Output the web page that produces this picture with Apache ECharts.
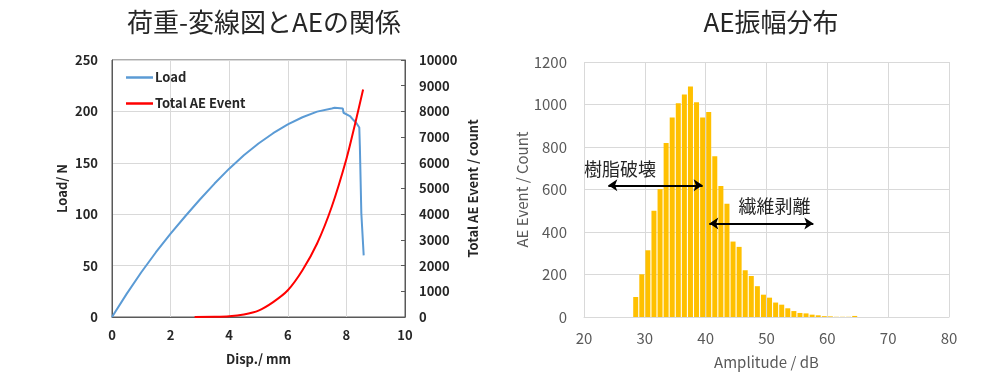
<!DOCTYPE html>
<html><head><meta charset="utf-8">
<script src="https://cdn.jsdelivr.net/npm/echarts@6/dist/echarts.min.js"></script>
<style>html,body{margin:0;padding:0;background:#fff}#c{width:1000px;height:380px}</style>
</head><body><div id="c"></div>
<script>
// Left chart: load vs displacement
const loadDisp = [0,0.5,1,1.5,2,2.5,3,3.5,4,4.5,5,5.5,6,6.5,7,7.5,7.6,7.88,7.9,8.12,8.24,8.35,8.44,8.46,8.51,8.59];
const loadN    = [0,22.5,43.5,63,81,98,114.3,129.8,144.3,157.3,168.8,178.8,187.3,194.3,199.8,202.8,203.5,202.8,198.7,195.5,191.6,188.3,184.4,165.6,100.7,60];
// Total AE event vs displacement
const aeDisp   = [2.82,3.5,4,4.5,5,5.5,6,6.5,7,7.5,8,8.3,8.57];
const aeTotal  = [0,5,26,100,250,580,1040,1820,2860,4290,6150,7530,8850];
// Right chart: amplitude histogram (bin start in dB, counts)
const ampBins  = [28,29,30,31,32,33,34,35,36,37,38,39,40,41,42,43,44,45,46,47,48,49,50,51,52,53,54,55,56,57,58,59,60,61,62,63,64];
const ampCount = [94,201,314,500,602,819,939,1006,1047,1085,1011,939,965,756,616,533,355,330,220,193,145,105,91,68,58,41,28,19,17,11,8,4,3,1,1,1,5];
// Annotations (amplitude dB, count)
const resinArrow = [[24,620],[39.5,620]];
const fiberArrow = [[40.6,440],[57.7,440]];
const resinLabel = [20,697];
const fiberLabel = [45.4,520];

const FONT = '"Noto Sans CJK JP", "Noto Sans", sans-serif';
const chart = echarts.init(document.getElementById('c'));
const boldLbl = {fontFamily: FONT, fontWeight: 'bold', fontSize: 13, color: '#262626'};
const greyLbl = {fontFamily: FONT, fontSize: 15, color: '#595959'};
const plain = v => String(v);

chart.setOption({
  animation: false,
  title: [
    {text: '荷重-変線図とAEの関係', left: 259, top: 4, textAlign: 'center',
     textStyle: {fontFamily: FONT, fontSize: 26, fontWeight: 'normal', color: '#262626'}},
    {text: 'AE振幅分布', left: 766, top: 4, textAlign: 'center',
     textStyle: {fontFamily: FONT, fontSize: 26, fontWeight: 'normal', color: '#262626'}}
  ],
  legend: {
    data: ['Load', 'Total AE Event'], orient: 'vertical', left: 121, top: 66,
    icon: 'rect', itemWidth: 27, itemHeight: 2.5, itemGap: 13,
    textStyle: Object.assign({}, boldLbl, {padding: [0,0,0,-3]})
  },
  grid: [
    {left: 112, right: 595, top: 60, bottom: 63, show: true, borderColor: '#595959', borderWidth: 1},
    {left: 584, right: 51, top: 62, bottom: 63}
  ],
  xAxis: [
    {gridIndex: 0, type: 'value', min: 0, max: 10, interval: 2,
     name: 'Disp./ mm', nameLocation: 'middle', nameGap: 36, nameTextStyle: boldLbl,
     axisLine: {lineStyle: {color: '#595959'}}, axisTick: {show: false},
     axisLabel: Object.assign({margin: 12, formatter: plain}, boldLbl),
     splitLine: {lineStyle: {color: '#d9d9d9'}}},
    {gridIndex: 1, type: 'value', min: 20, max: 80, interval: 10,
     name: 'Amplitude / dB', nameLocation: 'middle', nameGap: 38, nameTextStyle: greyLbl,
     axisLine: {lineStyle: {color: '#d9d9d9'}}, axisTick: {show: false},
     axisLabel: Object.assign({margin: 14, formatter: plain}, greyLbl),
     splitLine: {lineStyle: {color: '#d9d9d9'}}}
  ],
  yAxis: [
    {gridIndex: 0, type: 'value', min: 0, max: 250, interval: 50,
     name: 'Load/ N', nameLocation: 'middle', nameGap: 43, nameTextStyle: boldLbl,
     axisLine: {show: true, lineStyle: {color: '#595959'}}, axisTick: {show: false},
     axisLabel: Object.assign({margin: 14, formatter: plain}, boldLbl),
     splitLine: {lineStyle: {color: '#d9d9d9'}}},
    {gridIndex: 0, type: 'value', min: 0, max: 10000, interval: 1000, position: 'right',
     name: 'Total AE Event / count', nameLocation: 'middle', nameGap: 62, nameTextStyle: boldLbl,
     axisLine: {show: true, lineStyle: {color: '#595959'}},
     axisTick: {show: true, inside: true, length: 4, lineStyle: {color: '#595959'}},
     axisLabel: Object.assign({margin: 14, formatter: plain}, boldLbl),
     splitLine: {show: false}},
    {gridIndex: 1, type: 'value', min: 0, max: 1200, interval: 200,
     name: 'AE Event / Count', nameLocation: 'middle', nameGap: 50, nameTextStyle: greyLbl,
     axisLine: {show: false}, axisTick: {show: false},
     axisLabel: Object.assign({margin: 17, formatter: plain}, greyLbl),
     splitLine: {lineStyle: {color: '#d9d9d9'}}}
  ],
  series: [
    {name: 'Load', type: 'line', xAxisIndex: 0, yAxisIndex: 0, symbol: 'none',
     data: loadDisp.map((d, i) => [d, loadN[i]]),
     lineStyle: {color: '#5B9BD5', width: 2}, itemStyle: {color: '#5B9BD5'}},
    {name: 'Total AE Event', type: 'line', xAxisIndex: 0, yAxisIndex: 1, symbol: 'none', smooth: 0.3,
     data: aeDisp.map((d, i) => [d, aeTotal[i]]),
     lineStyle: {color: '#FF0000', width: 2}, itemStyle: {color: '#FF0000'}},
    {name: 'AE', type: 'bar', xAxisIndex: 1, yAxisIndex: 2, barWidth: 5,
     data: ampBins.map((b, i) => [b + 0.5, ampCount[i]]),
     itemStyle: {color: '#FFC000'},
     markLine: {
       silent: true, symbol: ['arrow', 'arrow'], symbolSize: [9, 9],
       lineStyle: {color: '#000', width: 2, type: 'solid'}, label: {show: false},
       data: [
         [{coord: resinArrow[0]}, {coord: resinArrow[1]}],
         [{coord: fiberArrow[0]}, {coord: fiberArrow[1]}]
       ]
     },
     markPoint: {
       silent: true, symbol: 'circle', symbolSize: 0,
       label: {show: true, position: 'right', distance: 0, fontFamily: FONT, fontSize: 18, color: '#262626'},
       data: [
         {coord: resinLabel, label: {formatter: '樹脂破壊'}},
         {coord: fiberLabel, label: {formatter: '繊維剥離'}}
       ]
     }}
  ]
});
</script></body></html>
